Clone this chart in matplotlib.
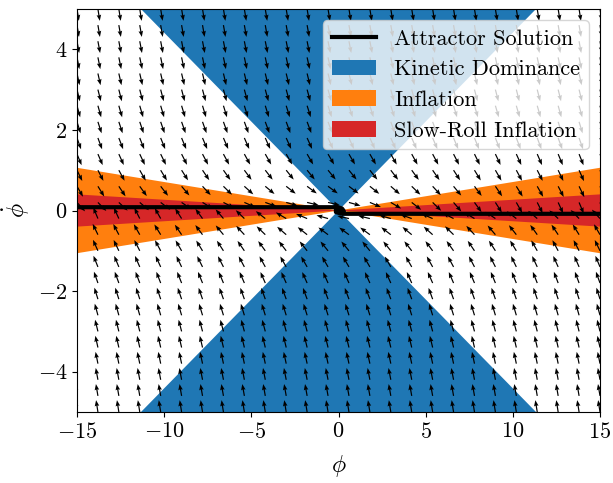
import numpy as np
import matplotlib
matplotlib.use("Agg")
import matplotlib.pyplot as plt

plt.rcParams['font.family'] = 'serif'
plt.rcParams['font.serif'] = ['cmr10']
plt.rcParams['mathtext.fontset'] = 'cm'
plt.rcParams['axes.formatter.use_mathtext'] = True
plt.rcParams['font.size'] = 16

# model parameter (quadratic potential V = m^2 phi^2 / 2, M_p = 1)
m = 0.1

# axis ranges
phi_range = [-15, 15]
phidot_range = [-5, 5]

# region boundaries
kinetic_phi_at_edge = 11.33     # |phi| where kinetic-dominance edge meets |phidot| = 5
inflation_phidot_at_edge = 1.06  # |phidot| of inflation edge at |phi| = 15
slowroll_phidot_at_edge = 0.40   # |phidot| of slow-roll edge at |phi| = 15

attractor_phi = [-15, -0.3, -0.05, 0.2, 0.3, 0.1, -0.15, -0.15, 0.1, 0.3, 15]
attractor_phidot = [0.082, 0.082, 0.085, 0.05, -0.01, -0.07, -0.04, 0.02, 0.02, -0.082, -0.082]

# grid for direction field
n_phi = 26
n_phidot = 26

fig = plt.figure(figsize=(6.13, 4.83), dpi=100)
ax = fig.add_axes([77/613, 1 - 412/483, 523/613, 403/483])

# kinetic dominance
ax.fill([0, -kinetic_phi_at_edge, kinetic_phi_at_edge], [0, 5, 5], color='#1f77b4', lw=0,
        label='Kinetic Dominance')
ax.fill([0, -kinetic_phi_at_edge, kinetic_phi_at_edge], [0, -5, -5], color='#1f77b4', lw=0)
# inflation
ax.fill([-15, 0, -15], [inflation_phidot_at_edge, 0, -inflation_phidot_at_edge], color='#ff7f0e', lw=0,
        label='Inflation')
ax.fill([15, 0, 15], [inflation_phidot_at_edge, 0, -inflation_phidot_at_edge], color='#ff7f0e', lw=0)
# slow-roll
ax.fill([-15, 0, -15], [slowroll_phidot_at_edge, 0, -slowroll_phidot_at_edge], color='#d62728', lw=0,
        label='Slow-Roll Inflation')
ax.fill([15, 0, 15], [slowroll_phidot_at_edge, 0, -slowroll_phidot_at_edge], color='#d62728', lw=0)

# attractor
ax.plot(attractor_phi, attractor_phidot, color='black', lw=3, label='Attractor Solution', zorder=3)

# direction field
P, PD = np.meshgrid(np.linspace(phi_range[0], phi_range[1], n_phi),
                    np.linspace(phidot_range[0], phidot_range[1], n_phidot))
V = 0.5 * m**2 * P**2
H = np.sqrt((0.5 * PD**2 + V) / 3.0)
U = PD
W = -3 * H * PD - m**2 * P
N = np.hypot(U, W)
N[N == 0] = 1
ax.quiver(P, PD, U / N, W / N, pivot='tail', scale=1/0.12, scale_units='inches',
          width=0.0023, headwidth=3.8, headlength=5, headaxislength=4.5, color='black', zorder=4)

ax.set_xlim(phi_range)
ax.set_ylim(phidot_range)
ax.set_xticks([-15, -10, -5, 0, 5, 10, 15])
ax.set_yticks([-4, -2, 0, 2, 4])
ax.tick_params(labelsize=16)
ax.set_xlabel(r'$\phi$', fontsize=17, labelpad=8)
ax.set_ylabel(r'$\dot{\phi}$', fontsize=17)

handles, labels = ax.get_legend_handles_labels()
order = [labels.index(l) for l in ['Attractor Solution', 'Kinetic Dominance', 'Inflation', 'Slow-Roll Inflation']]
ax.legend([handles[i] for i in order], [labels[i] for i in order], loc='upper right',
          framealpha=0.8, fontsize=16)

fig.savefig('out.png', dpi=100)
